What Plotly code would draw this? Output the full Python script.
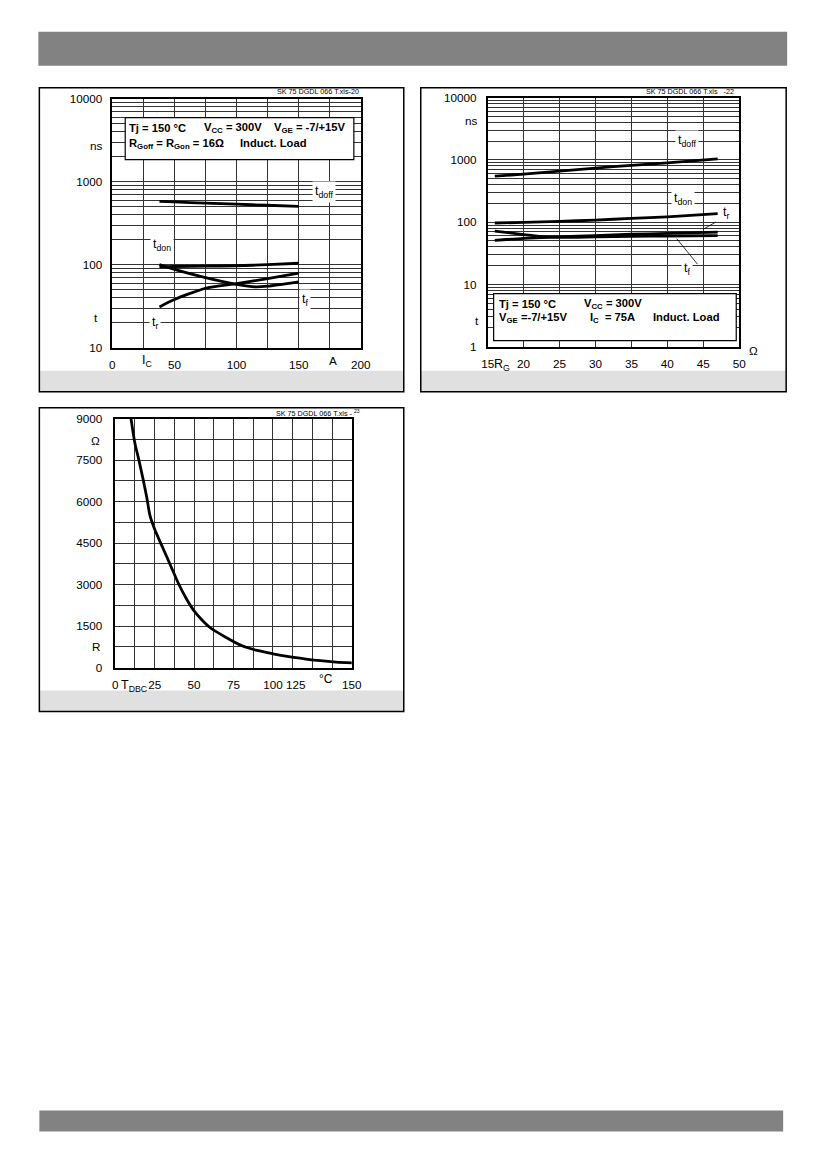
import plotly.graph_objects as go

W, H = 826, 1169
# the captured page comes out slightly scaled and shifted; compensate so marks land where the reference has them
SX, CX = 0.981, 13.6
SY, CY = 0.989, 14.3

# chart 1: switching times vs collector current
ic = [38, 50, 75, 100, 125, 150]
t_doff_ic = [580, 570, 552, 535, 520, 505]
t_don_ic = [94, 95, 96, 97, 100, 104]
t_r_ic = [31, 38, 52, 59, 68, 79]
ic_f = [38, 50, 75, 100, 115, 125, 150]
t_f_ic = [100, 88, 70, 58, 54, 55, 62]

# chart 2: switching times vs gate resistor
rg = [16, 20, 25, 30, 35, 40, 47]
t_doff_rg = [550, 590, 660, 740, 820, 900, 1040]
t_don_rg = [97, 99, 103, 108, 115, 122, 137]
t_r_rg = [51, 55, 58, 61, 64, 66, 69]
rg_f = [16, 20, 23, 25, 30, 35, 40, 47]
t_f_rg = [72, 63, 58, 57, 58, 59, 60, 61]

# chart 3: NTC resistance vs temperature
t_dbc = [10, 12.5, 15, 20, 22, 25, 30, 35, 40, 45, 50, 55, 60, 70, 80, 90, 100, 110, 120, 130, 140, 150]
r_ntc = [9000, 8100, 7500, 6150, 5500, 5000, 4350, 3700, 3050, 2500, 2050, 1720, 1450, 1100, 800,
         620, 500, 400, 320, 250, 200, 170]

FONT = "Liberation Sans, Arial, sans-serif"


def fx(px):
    return (px - CX) / SX / W


def fy(py):
    return 1 - (py - CY) / SY / H


def log_ticks(lo, hi):
    vals, text = [], []
    for e in range(lo, hi):
        for m in range(1, 10):
            vals.append(m * 10 ** e)
            text.append(str(10 ** e) if m == 1 else "")
    vals.append(10 ** hi)
    text.append(str(10 ** hi))
    return vals, text


def lin_ticks(start, stop, step, label_every, skip=()):
    vals, text = [], []
    v, i = start, 0
    while v <= stop + 1e-9:
        vals.append(v)
        lab = ("%g" % v) if i % label_every == 0 else ""
        text.append("" if v in skip else lab)
        v += step
        i += 1
    return vals, text


fig = go.Figure()

line = dict(color="black", width=2.8)
for x, y in [(ic, t_doff_ic), (ic, t_don_ic), (ic, t_r_ic), (ic_f, t_f_ic)]:
    fig.add_trace(go.Scatter(x=x, y=y, mode="lines", line=dict(line, shape="spline", smoothing=0.6),
                             xaxis="x", yaxis="y", showlegend=False, hoverinfo="skip"))
for x, y in [(rg, t_doff_rg), (rg, t_don_rg), (rg, t_r_rg), (rg_f, t_f_rg)]:
    fig.add_trace(go.Scatter(x=x, y=y, mode="lines", line=dict(line, shape="spline", smoothing=0.6),
                             xaxis="x2", yaxis="y2", showlegend=False, hoverinfo="skip"))
fig.add_trace(go.Scatter(x=t_dbc, y=r_ntc, mode="lines", line=dict(line, shape="spline", smoothing=0.8),
                         xaxis="x3", yaxis="y3", showlegend=False, hoverinfo="skip"))

ax_common = dict(showline=True, mirror=True, linecolor="black", linewidth=1.5, ticks="",
                 showgrid=True, gridcolor="#333333", gridwidth=1, zeroline=False,
                 tickfont=dict(family=FONT, size=11.7, color="black"), fixedrange=True)

xv1, xt1 = lin_ticks(0, 200, 25, 2)
yv1, yt1 = log_ticks(1, 4)
xv2, xt2 = lin_ticks(15, 50, 5, 1)
yv2, yt2 = log_ticks(0, 4)
xv3, xt3 = lin_ticks(0, 150, 12.5, 2, skip=(125,))
yv3, yt3 = lin_ticks(0, 9000, 750, 2)

fig.update_layout(
    width=W, height=H, margin=dict(l=0, r=0, t=0, b=0),
    paper_bgcolor="white", plot_bgcolor="white",
    font=dict(family=FONT, size=11, color="black"),
    xaxis=dict(ax_common, domain=[fx(111), fx(360)], range=[0, 200], tickvals=xv1, ticktext=xt1,
               anchor="y", ticklabelstandoff=6),
    yaxis=dict(ax_common, domain=[fy(347), fy(98)], type="log", range=[1, 4], tickvals=yv1, ticktext=yt1,
               anchor="x", ticklabelstandoff=6),
    xaxis2=dict(ax_common, domain=[fx(487), fx(739)], range=[15, 50], tickvals=xv2, ticktext=xt2,
                anchor="y2", ticklabelstandoff=6),
    yaxis2=dict(ax_common, domain=[fy(346), fy(97)], type="log", range=[0, 4], tickvals=yv2, ticktext=yt2,
                anchor="x2", ticklabelstandoff=7),
    xaxis3=dict(ax_common, domain=[fx(114), fx(351)], range=[0, 150], tickvals=xv3, ticktext=xt3,
                anchor="y3", ticklabelstandoff=6),
    yaxis3=dict(ax_common, domain=[fy(667), fy(418)], range=[0, 9000], tickvals=yv3, ticktext=yt3,
                anchor="x3", ticklabelstandoff=9),
)

shapes = []
# header and footer bars
shapes.append(dict(type="rect", xref="paper", yref="paper", x0=fx(37), x1=fx(787), y0=fy(65), y1=fy(31),
                   fillcolor="#828282", line=dict(width=0), layer="below"))
shapes.append(dict(type="rect", xref="paper", yref="paper", x0=fx(38), x1=fx(783), y0=fy(1131), y1=fy(1110),
                   fillcolor="#828282", line=dict(width=0), layer="below"))
# panel frames with grey strip
for x0, x1, y0, y1 in [(38, 403, 87, 391), (420, 786, 87, 391), (38, 403, 407, 711)]:
    shapes.append(dict(type="rect", xref="paper", yref="paper", x0=fx(x0), x1=fx(x1), y0=fy(y1 - 21), y1=fy(y1),
                       fillcolor="#e0e0e0", line=dict(width=0), layer="below"))
    shapes.append(dict(type="rect", xref="paper", yref="paper", x0=fx(x0), x1=fx(x1), y0=fy(y1), y1=fy(y0),
                       fillcolor="rgba(0,0,0,0)", line=dict(color="black", width=1.5), layer="above"))
# condition boxes
shapes.append(dict(type="rect", xref="paper", yref="paper", x0=fx(124), x1=fx(353), y0=fy(159), y1=fy(117),
                   fillcolor="white", line=dict(color="black", width=1.2), layer="above"))
shapes.append(dict(type="rect", xref="paper", yref="paper", x0=fx(493), x1=fx(736), y0=fy(340), y1=fy(293),
                   fillcolor="white", line=dict(color="black", width=1.2), layer="above"))
fig.update_layout(shapes=shapes)

ann = []


def ptext(text, px, py, size=11.2, xanchor="left", bold=False):
    if bold:
        text = "<b>" + text + "</b>"
    ann.append(dict(text=text, x=fx(px), y=fy(py), xref="paper", yref="paper", showarrow=False,
                    xanchor=xanchor, yanchor="middle", font=dict(family=FONT, size=size, color="black")))


# source tags
ptext("SK 75 DGDL 066 T.xls-20", 360, 91, size=7.2, xanchor="right")
ptext("SK 75 DGDL 066 T.xls   -22", 736, 91, size=7.2, xanchor="right")
ptext("SK 75 DGDL 066 T.xls - <sup>23</sup>", 361, 412, size=7.2, xanchor="right")

# condition text, chart 1
ptext("Tj = 150 °C", 126, 127, bold=True)
ptext("V<sub>CC</sub> = 300V", 201, 127, bold=True)
ptext("V<sub>GE</sub> = -7/+15V", 271, 127, bold=True)
ptext("R<sub>Goff</sub> = R<sub>Gon</sub> = 16Ω", 126, 143, bold=True)
ptext("Induct. Load", 237, 142, bold=True)
# condition text, chart 2
ptext("Tj = 150 °C", 496, 303, bold=True)
ptext("V<sub>CC</sub> = 300V", 582, 303, bold=True)
ptext("V<sub>GE</sub> =-7/+15V", 496, 317, bold=True)
ptext("I<sub>C</sub>  = 75A", 588, 317, bold=True)
ptext("Induct. Load", 651, 316, bold=True)

# axis unit labels
ptext("ns", 104, 145, size=11.7, xanchor="right")
ptext("t", 95, 317, size=11.7, xanchor="center")
ptext("I<sub>C</sub>", 146, 360, size=12.5, xanchor="center")
ptext("A", 332, 360, size=11.7, xanchor="center")
ptext("ns", 479, 120, size=11.7, xanchor="right")
ptext("t", 476, 320, size=11.7, xanchor="center")
ptext("R<sub>G</sub>", 491, 364, size=12.5, xanchor="left")
ptext("Ω", 753, 350, size=11.7, xanchor="center")
ptext("Ω", 94, 440, size=11.7, xanchor="center")
ptext("R", 95, 646, size=11.7, xanchor="center")
ptext("T<sub>DBC</sub>", 118, 685, size=12.5, xanchor="left")
ptext("125", 295, 684, size=11.7, xanchor="center")
ptext("°C", 325, 678, size=12, xanchor="center")


def curve_label(text, x, logy, xa, ya, **kw):
    d = dict(text=text, x=x, y=logy, xref=xa, yref=ya, showarrow=False, bgcolor="white",
             font=dict(family=FONT, size=12.5, color="black"), borderpad=2)
    d.update(kw)
    ann.append(d)


curve_label("t<sub>doff</sub>", 170, 2.87, "x", "y")
curve_label("t<sub>don</sub>", 40, 2.24, "x", "y")
curve_label("t<sub>f</sub>", 155, 1.58, "x", "y")
curve_label("t<sub>r</sub>", 34, 1.30, "x", "y")

curve_label("t<sub>doff</sub>", 42.7, 3.30, "x2", "y2")
curve_label("t<sub>don</sub>", 42.2, 2.38, "x2", "y2")
curve_label("t<sub>r</sub>", 48.1, 2.14, "x2", "y2", bgcolor="rgba(0,0,0,0)")
curve_label("t<sub>f</sub>", 42.8, 1.25, "x2", "y2")
# leader lines to t_r and t_f
ann.append(dict(text="", x=45.0, y=1.887, xref="x2", yref="y2", showarrow=True, arrowhead=0,
                arrowwidth=0.8, arrowcolor="black", ax=14, ay=-8, standoff=0))
ann.append(dict(text="", x=41.3, y=1.736, xref="x2", yref="y2", showarrow=True, arrowhead=0,
                arrowwidth=0.8, arrowcolor="black", ax=22, ay=27, standoff=0))

fig.update_layout(annotations=ann)

fig.write_html("out.html")
